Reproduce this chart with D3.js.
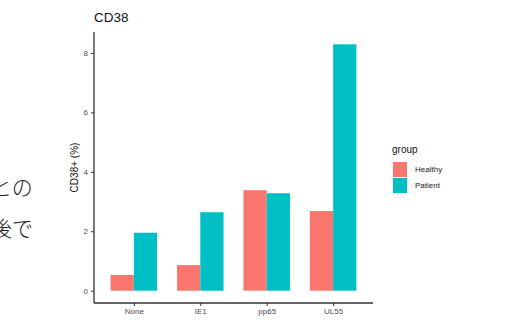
<!DOCTYPE html>
<html>
<head>
<meta charset="utf-8">
<script src="https://cdn.jsdelivr.net/npm/d3@7"></script>
<style>
  body { margin: 0; background: #fff; }
  svg { display: block; font-family: "Liberation Sans", Arial, sans-serif; }
</style>
</head>
<body>
<svg id="chart" width="530" height="321"></svg>
<script>
const categories = ["None", "IE1", "pp65", "UL55"];
const groups = ["Healthy", "Patient"];
const healthy = [0.53, 0.86, 3.38, 2.68];
const patient = [1.95, 2.64, 3.28, 8.29];
const yTicks = [0, 2, 4, 6, 8];
const colors = ["#F8766D", "#00BFC4"];
const sideText = ["との", "後で"];

const svg = d3.select("#chart");

const margin = {left: 94, right: 157, top: 32, bottom: 18};
const width = 530, height = 321;

// ggplot-style discrete expansion (0.6 units each side)
const n = categories.length;
const x = d3.scaleLinear()
    .domain([1 - 0.6, n + 0.6])
    .range([margin.left, width - margin.right]);

const yMax = d3.max(patient.concat(healthy));
const y = d3.scaleLinear()
    .domain([-0.05 * yMax, yMax * 1.05])
    .range([height - margin.bottom, margin.top]);

const barW = 0.35;
const rows = categories.map((c, i) => ({cat: c, i: i + 1, vals: [healthy[i], patient[i]]}));

const g = svg.append("g");
rows.forEach(r => {
    r.vals.forEach((v, k) => {
        g.append("rect")
            .attr("x", x(r.i - barW + k * barW))
            .attr("width", x(barW) - x(0))
            .attr("y", y(v))
            .attr("height", y(0) - y(v))
            .attr("fill", colors[k]);
    });
});

// axes
const yAxis = d3.axisLeft(y).tickValues(yTicks).tickSize(3).tickPadding(3);
const yG = svg.append("g")
    .attr("transform", `translate(${margin.left},0)`)
    .call(yAxis);

const xAxis = d3.axisBottom(x).tickValues(d3.range(1, n + 1))
    .tickFormat(d => categories[d - 1]).tickSize(3).tickPadding(2);
const xG = svg.append("g")
    .attr("transform", `translate(0,${height - margin.bottom})`)
    .call(xAxis);

[yG, xG].forEach(a => {
    a.select(".domain").attr("stroke", "#333").attr("stroke-width", 1.3)
        .attr("d", a === yG
            ? `M0,${y.range()[0]}V${y.range()[1]}`
            : `M${x.range()[0]},0H${x.range()[1]}`);
    a.selectAll(".tick line").attr("stroke", "#333");
    a.selectAll(".tick text").attr("fill", "#4d4d4d").style("font-size", "8px");
});

// title and axis label
svg.append("text")
    .attr("x", 94).attr("y", 22)
    .style("font-size", "13.5px").attr("fill", "#111")
    .text("CD38");

svg.append("text")
    .attr("transform", `translate(78,${(y.range()[0] + y.range()[1]) / 2}) rotate(-90)`)
    .attr("text-anchor", "middle")
    .style("font-size", "10px").attr("fill", "#111")
    .text("CD38+ (%)");

// legend
const leg = svg.append("g").attr("transform", "translate(392,0)");
leg.append("text").attr("x", 0).attr("y", 153)
    .style("font-size", "10px").attr("fill", "#111").text("group");
groups.forEach((gname, k) => {
    leg.append("rect")
        .attr("x", 1).attr("y", 162 + k * 16)
        .attr("width", 14).attr("height", 15)
        .attr("fill", colors[k]);
    leg.append("text")
        .attr("x", 23).attr("y", 172 + k * 16)
        .style("font-size", "8px").attr("fill", "#222")
        .text(gname);
});

// clipped japanese text at the left edge
sideText.forEach((t, k) => {
    svg.append("text")
        .attr("x", -9).attr("y", 195 + k * 41)
        .style("font-family", "'Noto Sans CJK JP', sans-serif")
        .style("font-size", "21px").style("font-weight", 300)
        .attr("fill", "#222")
        .text(t);
});
</script>
</body>
</html>
